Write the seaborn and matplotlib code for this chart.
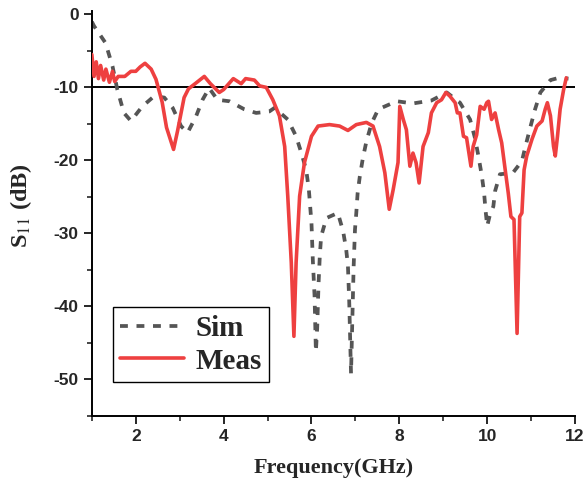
import numpy as np
import pandas as pd
import matplotlib
matplotlib.use("Agg")
import matplotlib.pyplot as plt
from matplotlib.ticker import MultipleLocator
import seaborn as sns

# simulated S11 (GHz, dB)
sim_freq = [1.0, 1.05, 1.31, 1.47, 1.58, 1.73, 1.89, 2.15, 2.42, 2.65, 2.84, 3.03, 3.18, 3.37, 3.52,
            3.67, 3.86, 4.13, 4.47, 4.74, 5.04, 5.16, 5.46, 5.65, 5.77, 5.88, 5.94, 6.0, 6.03, 6.07,
            6.10, 6.13, 6.16, 6.19, 6.22, 6.34, 6.6, 6.72, 6.79, 6.83, 6.86, 6.9, 6.93, 6.96, 6.99,
            7.02, 7.05, 7.1, 7.17, 7.25, 7.37, 7.52, 7.94, 8.31, 8.73, 9.08, 9.38, 9.61, 9.72, 9.8,
            9.88, 9.93, 9.96, 10.0, 10.06, 10.14, 10.18, 10.29, 10.45, 10.56, 10.79, 10.87, 10.98,
            11.09, 11.21, 11.44, 11.63, 11.85]
sim_db = [-1.0, -1.6, -3.9, -7.1, -10.3, -13.5, -14.6, -12.6, -11.2, -11.4, -12.8, -15.3, -16.2, -14.0,
          -11.7, -10.1, -11.7, -11.9, -13.0, -13.5, -13.3, -12.8, -14.4, -16.7, -19.0, -21.3, -24.0,
          -28.6, -33.6, -38.6, -46.2, -43.0, -37.0, -33.0, -30.4, -27.9, -27.2, -29.7, -32.2, -34.5,
          -39.5, -49.2, -41.8, -34.5, -29.5, -27.2, -24.5, -22.2, -19.7, -17.4, -14.9, -13.0, -11.9,
          -12.2, -11.8, -10.7, -12.1, -14.4, -16.9, -19.4, -22.2, -24.5, -26.7, -29.0, -27.5, -26.3,
          -24.2, -21.9, -21.8, -21.9, -20.1, -18.1, -15.5, -13.0, -10.7, -9.0, -8.7, -8.8]

# measured S11 (GHz, dB)
meas_freq = [1.0, 1.05, 1.1, 1.15, 1.2, 1.27, 1.32, 1.4, 1.47, 1.52,
             1.6, 1.75, 1.89, 2.0, 2.1, 2.21, 2.35, 2.46, 2.6, 2.7,
             2.86, 2.95, 3.1, 3.2, 3.35, 3.56, 3.7, 3.9, 4.0, 4.22,
             4.4, 4.5, 4.7, 4.82, 4.97, 5.12, 5.27, 5.39, 5.46, 5.54,
             5.6, 5.65, 5.73, 5.84, 6.0, 6.15, 6.41, 6.64, 6.83, 7.02,
             7.25, 7.4, 7.55, 7.67, 7.77, 7.86, 7.97, 8.01, 8.09, 8.16,
             8.24, 8.31, 8.38, 8.45, 8.54, 8.66, 8.73, 8.85, 8.96, 9.06,
             9.15, 9.27, 9.32, 9.38, 9.46, 9.53, 9.63, 9.68, 9.76, 9.84,
             9.93, 9.99, 10.03, 10.1, 10.18, 10.26, 10.33, 10.41, 10.48, 10.54,
             10.61, 10.68, 10.74, 10.79, 10.84, 10.9, 11.02, 11.13, 11.25, 11.32,
             11.37, 11.44, 11.51, 11.55, 11.6, 11.66, 11.74, 11.8]
meas_db = [-5.5, -8.5, -6.5, -8.8, -7.0, -9.0, -7.5, -9.3, -7.8, -9.2,
           -8.5, -8.5, -7.8, -7.8, -7.2, -6.7, -7.5, -8.9, -12.0, -15.5,
           -18.5, -16.0, -11.4, -10.2, -9.5, -8.5, -9.5, -10.7, -10.3, -8.8,
           -9.5, -8.8, -9.0, -9.8, -10.0, -11.7, -13.9, -18.1, -24.9, -34.0,
           -44.1, -34.0, -24.9, -20.3, -16.7, -15.3, -15.1, -15.3, -15.9, -15.1,
           -14.8, -15.3, -18.1, -21.7, -26.7, -24.0, -20.3, -12.6, -14.4, -15.8,
           -20.8, -19.0, -20.3, -23.1, -18.1, -16.2, -13.5, -12.1, -11.7, -10.7,
           -11.2, -12.1, -13.5, -13.5, -16.7, -16.9, -20.8, -18.1, -16.5, -12.6,
           -13.0, -12.1, -11.9, -14.4, -13.5, -15.8, -17.6, -21.3, -24.5, -27.7,
           -28.1, -43.7, -27.7, -27.2, -21.3, -19.4, -17.1, -15.3, -14.6, -13.0,
           -12.1, -13.9, -18.1, -19.4, -16.7, -13.0, -10.3, -8.7]

sns.set_style("ticks")
plt.rcParams["mathtext.fontset"] = "stix"
plt.rcParams["axes.unicode_minus"] = False

fig = plt.figure(figsize=(5.85, 4.87), dpi=100)
ax = fig.add_axes([0.157, 0.146, 0.826, 0.832])

sim = pd.DataFrame({"f": sim_freq, "s11": sim_db})
meas = pd.DataFrame({"f": meas_freq, "s11": meas_db})

ax.axhline(-10, color="black", lw=1.4, zorder=1)
sns.lineplot(data=sim, x="f", y="s11", ax=ax, sort=False, estimator=None,
             color="#555555", lw=2.7, label="Sim", zorder=2)
ax.lines[-1].set_dashes((2.1, 2.3))
sns.lineplot(data=meas, x="f", y="s11", ax=ax, sort=False, estimator=None,
             color="#EE4040", lw=2.6, label="Meas", zorder=3)

ax.set_xlim(1, 12)
ax.set_ylim(-55, 0.5)
ax.xaxis.set_major_locator(MultipleLocator(2))
ax.xaxis.set_minor_locator(MultipleLocator(1))
ax.yaxis.set_major_locator(MultipleLocator(10))
ax.yaxis.set_minor_locator(MultipleLocator(5))
ax.set_xticks([2, 4, 6, 8, 10, 12])
ax.tick_params(which="major", direction="out", length=6, width=1.4, labelsize=12.5)
ax.tick_params(which="minor", direction="out", length=3.5, width=1.2)
for lab in ax.get_xticklabels() + ax.get_yticklabels():
    lab.set_family("Liberation Sans")
    lab.set_fontweight("bold")

for s in ["left", "bottom"]:
    ax.spines[s].set_linewidth(1.4)
    ax.spines[s].set_color("black")
sns.despine(ax=ax)

ax.set_xlabel("Frequency(GHz)", family="Liberation Serif", fontweight="bold", fontsize=16, labelpad=10)
ax.set_ylabel(r"S$_{11}$ (dB)", family="Liberation Serif", fontweight="bold", fontsize=17.5, labelpad=14)
ax.yaxis.set_label_coords(-0.12, 0.52)

leg = ax.legend(loc="lower left", bbox_to_anchor=(0.043, 0.084), borderaxespad=0,
                frameon=True, fancybox=False, edgecolor="black", framealpha=1,
                handlelength=2.2, handletextpad=0.4, borderpad=0.25, labelspacing=0.2,
                prop={"family": "Liberation Serif", "weight": "bold", "size": 21})
leg.get_frame().set_linewidth(1.0)

fig.savefig("out.png", dpi=100)
